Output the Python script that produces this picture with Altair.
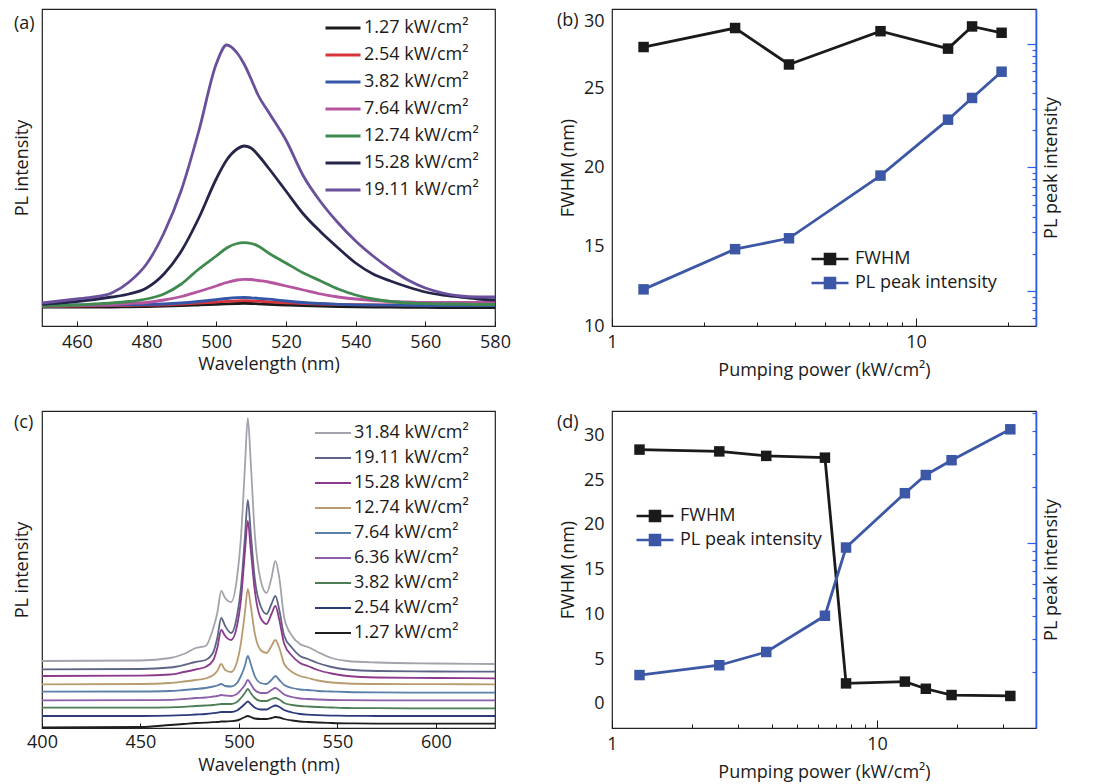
import altair as alt
import pandas as pd

FONT = "Open Sans"
TXT = "#1a1a1a"
AX_BLUE = "#2f5ce6"
PL_BLUE = "#3c57a5"

# ---------------- (a) PL spectra (arbitrary units) ----------------
a_wavelength = [450, 455, 460, 465, 470, 475, 480, 485, 490, 495, 500, 503, 506, 508, 510,
                512, 515, 520, 525, 530, 535, 540, 545, 550, 555, 560, 565, 570, 575, 580]
a_labels = ["1.27 kW/cm²", "2.54 kW/cm²", "3.82 kW/cm²", "7.64 kW/cm²",
            "12.74 kW/cm²", "15.28 kW/cm²", "19.11 kW/cm²"]
a_colors = ["#1b1b1b", "#d8343c", "#3556a8", "#b5549f", "#3f8a4e", "#25254a", "#6a4f9c"]
a_127 = [19, 19, 19, 19, 19, 19.2, 19.4, 19.8, 20.3, 21, 21.7, 22.2, 22.5, 22.6, 22.5,
         22.2, 21.7, 21, 20.3, 19.8, 19.4, 19.1, 19, 18.8, 18.7, 18.6, 18.5, 18.5, 18.5, 18.5]
a_254 = [20, 20, 20, 20.2, 20.3, 20.5, 20.8, 21.2, 22, 23, 24, 24.7, 25.2, 25.3, 25.2,
         24.8, 24.2, 23.2, 22.5, 22, 21.6, 21.3, 21.2, 21.1, 21, 21, 21, 21, 21, 21]
a_382 = [21, 21, 21, 21, 21, 21.2, 21.5, 22, 23, 24.5, 26.3, 27.5, 28.3, 28.5, 28.2,
         27.7, 26.8, 25, 23.5, 22.5, 21.7, 21.2, 21, 20.8, 20.6, 20.5, 20.5, 20.5, 20.5, 20.5]
a_764 = [20, 20, 20.5, 21, 21.5, 22.5, 23.5, 26, 29.5, 34.5, 40, 43.5, 46, 46.7, 46.5,
         45.5, 44, 40, 36, 32, 29, 27, 25.5, 24.5, 24, 23.5, 23.5, 23.5, 23.5, 23.5]
a_1274 = [20, 20.5, 21, 22, 23, 24.5, 27, 32, 42, 57, 70, 78, 82.5, 83.3, 82.5,
          80, 73, 63, 53, 45, 37, 31, 27, 24.5, 23, 22.5, 22, 22, 21.5, 21.5]
a_1528 = [21.7, 23, 24.5, 26.5, 29, 32, 38, 52, 75, 108, 147, 166, 177, 180, 178,
          171, 158, 135, 112, 94, 78, 63, 52, 45, 39, 34, 31, 29, 27, 26]
a_1911 = [23, 25, 27, 29, 33, 44, 62, 93, 136, 195, 262, 281, 273, 262, 247,
          231, 214, 186, 150, 124, 103, 85, 70, 57, 46, 38, 33, 30, 29, 29]
a_ticks = [460, 480, 500, 520, 540, 560, 580]

# ---------------- (b) FWHM & PL peak intensity ----------------
b_power = [1.27, 2.54, 3.82, 7.64, 12.74, 15.28, 19.11]
b_fwhm = [27.6, 28.8, 26.5, 28.6, 27.5, 28.9, 28.5]
b_pl = [10.3, 21.8, 26.7, 86, 244, 366, 597]
b_fwhm_ticks = [10, 15, 20, 25, 30]
b_x_ticks = [1, 2, 3, 4, 5, 6, 7, 8, 9, 10, 20]
b_r_ticks = [6, 7, 8, 9, 10, 20, 30, 40, 50, 60, 70, 80, 90, 100, 200, 300, 400, 500,
             600, 700, 800, 900, 1000]

# ---------------- (c) stacked lasing spectra ----------------
c_wavelength = [400, 450, 465, 472, 478, 483, 487, 489, 491, 493, 496, 499, 501, 503, 504.5,
                506, 508, 511, 514, 516.5, 518.5, 520.5, 523, 527, 531, 535, 540, 547, 555,
                570, 600, 630]
c_labels = ["31.84 kW/cm²", "19.11 kW/cm²", "15.28 kW/cm²", "12.74 kW/cm²", "7.64 kW/cm²",
            "6.36 kW/cm²", "3.82 kW/cm²", "2.54 kW/cm²", "1.27 kW/cm²"]
c_colors = ["#a3a3ab", "#5d6586", "#8b3a8c", "#b89c70", "#5a80a8", "#8c5fa8", "#4d7d55",
            "#2d3a7a", "#1e1e1e"]
c_3184 = [67, 67.5, 70, 74, 80, 82, 100, 115, 137, 130, 126, 150, 190, 260, 310, 265, 195,
          148, 135, 150, 167, 150, 110, 92, 84, 81, 76, 70, 67, 65.5, 64.5, 64]
c_1911 = [58.7, 59, 60.5, 63, 66, 68, 76, 90, 110, 102, 95, 112, 140, 190, 228, 195, 150,
          122, 114, 124, 132, 118, 92, 80, 72, 69, 65, 61, 58.5, 57, 56.5, 56.3]
c_1528 = [52, 52.3, 53.5, 56, 58.5, 61, 68, 80, 98, 92, 88, 102, 128, 175, 207, 178, 138,
          110, 104, 114, 122, 108, 84, 72, 65, 62, 58, 54.5, 52, 50.5, 50, 49.7]
c_1274 = [43.7, 44, 45, 46.5, 48, 49.5, 53, 57, 64, 58, 56, 66, 85, 115, 139, 122, 95,
          78, 75, 82, 88, 80, 64, 56, 52, 50, 47.5, 45.5, 44.5, 44, 43.8, 43.7]
c_764 = [36.3, 36.5, 37, 38, 39, 40, 41.5, 42.5, 44, 42, 41.5, 45, 52, 62, 72, 64, 52,
         45, 44, 48, 52, 48, 43, 40, 38.5, 38, 37, 36.5, 36, 35.6, 35.4, 35.3]
c_636 = [27.7, 27.8, 28.2, 29, 30, 30.5, 31.5, 32, 33, 32.5, 32, 34, 38, 43, 48, 44, 38,
         35, 35, 38, 40, 37.5, 33.5, 31, 29.5, 29, 28.5, 28, 27.8, 27.7, 27.7, 27.7]
c_382 = [20.3, 20.4, 20.7, 21.2, 22, 22.5, 23, 23.5, 24, 24, 24, 26, 30, 35, 39, 35, 30,
         27, 27, 29, 30, 28.5, 25, 23, 22, 21.5, 21, 20.5, 20, 19.8, 19.7, 19.7]
c_254 = [12, 12, 12.3, 12.8, 13.5, 14, 14.8, 15.3, 16, 16, 16, 17.5, 20.5, 24, 26.5, 24,
         20.5, 18.5, 18.5, 21, 22.5, 21, 18, 15.5, 14, 13.3, 12.8, 12.4, 12.2, 12, 12, 12]
c_127 = [0.5, 1, 3, 4, 5, 5.3, 5.8, 6, 6.5, 6.5, 6.8, 7.5, 9, 11, 12, 11, 9.5, 9, 9, 10,
         11, 10.5, 9, 7.5, 6.5, 6, 5.5, 5, 4.6, 4.4, 4.3, 4.3]
c_ticks = [400, 450, 500, 550, 600]

# ---------------- (d) FWHM & PL peak intensity ----------------
d_power = [1.27, 2.54, 3.82, 6.36, 7.64, 12.74, 15.28, 19.11, 31.84]
d_fwhm = [28.4, 28.2, 27.7, 27.5, 2.3, 2.5, 1.7, 1.0, 0.9]
d_pl = [19.2, 21.7, 25.6, 40.2, 94, 185, 232, 279, 410]
d_fwhm_ticks = [0, 5, 10, 15, 20, 25, 30]
d_x_ticks = [1, 2, 3, 4, 5, 6, 7, 8, 9, 10, 20, 30]
d_r_ticks = [20, 30, 40, 50, 60, 70, 80, 90, 100, 200, 300, 400, 500]

panel_tags = ["(a)", "(b)", "(c)", "(d)"]
series_names = ["FWHM", "PL peak intensity"]


def long_df(x, names, lists, xname, yname):
    rows = []
    for n, vals in zip(names, lists):
        for xv, yv in zip(x, vals):
            rows.append({xname: xv, yname: yv, "series": n})
    return pd.DataFrame(rows)


def tag_layer(tag, px, py):
    return alt.Chart(pd.DataFrame({"tag": [tag]})).mark_text(
        align="left", baseline="middle", fontSize=18, font=FONT, color=TXT
    ).encode(text="tag:N", x=alt.value(px), y=alt.value(py))


MAJ_X = "(datum.value == 1 || datum.value == 10) ? -8 : -4"
LBL_X = "datum.value == 1 ? '1' : (datum.value == 10 ? '10' : '')"

# ---------- panel (a) ----------
df_a = long_df(a_wavelength, a_labels, [a_127, a_254, a_382, a_764, a_1274, a_1528, a_1911],
               "wl", "I")
lines_a = alt.Chart(df_a).mark_line(strokeWidth=2.8, interpolate="monotone").encode(
    x=alt.X("wl:Q", scale=alt.Scale(domain=[450, 580], nice=False, zero=False),
            axis=alt.Axis(title="Wavelength (nm)", values=a_ticks, tickSize={"expr": "-5"},
                          labelPadding=12, titlePadding=4, domain=False, labelFlush=False)),
    y=alt.Y("I:Q", scale=alt.Scale(domain=[0, 317], nice=False),
            axis=alt.Axis(title="PL intensity", labels=False, ticks=False, domain=False,
                          titlePadding=11)),
    color=alt.Color("series:N", sort=a_labels,
                    scale=alt.Scale(domain=a_labels, range=a_colors),
                    legend=alt.Legend(title=None, orient="none", legendX=282, legendY=9,
                                      symbolType="stroke", symbolSize=1225,
                                      symbolStrokeWidth=3, clipHeight=20, rowPadding=7,
                                      labelOffset=2, labelFontSize=18, padding=0,
                                      labelFont=FONT, labelColor=TXT)),
)
chart_a = alt.layer(lines_a, tag_layer(panel_tags[0], -28, 15)).properties(width=453, height=317)

# ---------- panel (c) ----------
df_c = long_df(c_wavelength, c_labels,
               [c_3184, c_1911, c_1528, c_1274, c_764, c_636, c_382, c_254, c_127], "wl", "I")
lines_c = alt.Chart(df_c).mark_line(strokeWidth=1.8, interpolate="monotone").encode(
    x=alt.X("wl:Q", scale=alt.Scale(domain=[400, 630], nice=False, zero=False),
            axis=alt.Axis(title="Wavelength (nm)", values=c_ticks, tickSize={"expr": "-5"},
                          labelPadding=10, titlePadding=5, domain=False, labelFlush=False)),
    y=alt.Y("I:Q", scale=alt.Scale(domain=[0, 317], nice=False),
            axis=alt.Axis(title="PL intensity", labels=False, ticks=False, domain=False,
                          titlePadding=11)),
    color=alt.Color("series:N", sort=c_labels,
                    scale=alt.Scale(domain=c_labels, range=c_colors),
                    legend=alt.Legend(title=None, orient="none", legendX=272, legendY=13,
                                      symbolType="stroke", symbolSize=1296,
                                      symbolStrokeWidth=2, clipHeight=18, rowPadding=7,
                                      labelOffset=2, labelFontSize=18, padding=0,
                                      labelFont=FONT, labelColor=TXT)),
)
chart_c = alt.layer(lines_c, tag_layer(panel_tags[2], -28, 12)).properties(width=453, height=317)


# ---------- dual-axis panels ----------
def dual_panel(tag, power, fwhm, pl, xdom, x_ticks, fdom, f_ticks, rdom, r_ticks, r_major,
               leg_x, leg_y, f_label_baseline, f_label_offset):
    df_f = pd.DataFrame({"power": power, "v": fwhm, "series": "FWHM"})
    df_p = pd.DataFrame({"power": power, "v": pl, "series": "PL peak intensity"})
    x = alt.X("power:Q", scale=alt.Scale(type="log", domain=xdom, nice=False),
              axis=alt.Axis(title="Pumping power (kW/cm²)", values=x_ticks, labelExpr=LBL_X,
                            tickSize={"expr": MAJ_X}, labelPadding=15, titlePadding=6,
                            domain=False, labelFlush=False, labelOverlap=False))
    color = alt.Color("series:N", scale=alt.Scale(domain=series_names, range=[TXT, PL_BLUE]),
                      legend=alt.Legend(title=None, orient="none", legendX=leg_x,
                                        legendY=leg_y,
                                        symbolType="M-1,0L1,0M-0.27,-0.27L0.27,-0.27L0.27,0.27L-0.27,0.27Z",
                                        symbolSize=1369, symbolStrokeWidth=2.6,
                                        clipHeight=18, rowPadding=6, labelOffset=5,
                                        labelFontSize=18, padding=0, labelFont=FONT,
                                        labelColor=TXT))
    f_axis = alt.Axis(title="FWHM (nm)", values=f_ticks, ticks=False, domain=False,
                      labelPadding=8, titlePadding=6, orient="left",
                      labelBaseline=f_label_baseline, labelOffset=f_label_offset)
    y_f = alt.Y("v:Q", scale=alt.Scale(domain=fdom, nice=False, zero=False), axis=f_axis)
    maj = " || ".join(f"datum.value == {m}" for m in r_major)
    r_axis = alt.Axis(title="PL peak intensity", orient="right", values=r_ticks, labels=False,
                      tickSize={"expr": f"({maj}) ? -9 : -4"}, tickColor=AX_BLUE,
                      tickWidth=1.2, domainColor=AX_BLUE, domainWidth=1.6, titlePadding=6,
                      titleAngle=270, titleBaseline="top")
    y_p = alt.Y("v:Q", scale=alt.Scale(type="log", domain=rdom, nice=False), axis=r_axis)
    f_layer = alt.layer(
        alt.Chart(df_f).mark_line(strokeWidth=2.8).encode(x=x, y=y_f, color=color),
        alt.Chart(df_f).mark_point(shape="square", filled=True, size=110, opacity=1).encode(
            x=x, y=y_f, color=color),
        tag_layer(tag, -55, 12),
    )
    p_layer = alt.layer(
        alt.Chart(df_p).mark_line(strokeWidth=2.8).encode(x=x, y=y_p, color=color),
        alt.Chart(df_p).mark_point(shape="square", filled=True, size=110, opacity=1).encode(
            x=x, y=y_p, color=color),
    )
    return alt.layer(f_layer, p_layer).resolve_scale(y="independent").properties(
        width=424, height=317)


chart_b = dual_panel(panel_tags[1], b_power, b_fwhm, b_pl, [1, 24.8], b_x_ticks, [10, 30],
                     b_fwhm_ticks, [5.2, 1923], b_r_ticks, [10, 100, 1000], 198, 241,
                     {"condition": {"test": "datum.value >= 30", "value": "top"},
                      "value": "middle"},
                     {"condition": {"test": "datum.value >= 30", "value": 3}, "value": 0})
chart_d = dual_panel(panel_tags[3], d_power, d_fwhm, d_pl, [1, 39.8], d_x_ticks,
                     [-2.68, 32.71], d_fwhm_ticks, [9.93, 515], d_r_ticks, [100], 23, 96,
                     "middle", 0)

chart = alt.concat(chart_a, chart_b, chart_c, chart_d, columns=2,
                   spacing={"row": 85, "column": 117}, bounds="flush").resolve_scale(
    color="independent"
).properties(
    padding={"left": 4, "top": 0, "right": 0, "bottom": 0}
).configure(font=FONT).configure_axis(
    labelFont=FONT, titleFont=FONT, labelFontSize=18, titleFontSize=18,
    titleFontWeight="normal", labelColor=TXT, titleColor=TXT, grid=False,
    tickColor=TXT, domainColor=TXT
).configure_view(stroke="#222222", strokeWidth=1.2).configure_legend(
    labelFont=FONT, labelFontSize=18, labelColor=TXT
)

chart.save("out.html", embed_options={"renderer": "svg", "actions": False})
